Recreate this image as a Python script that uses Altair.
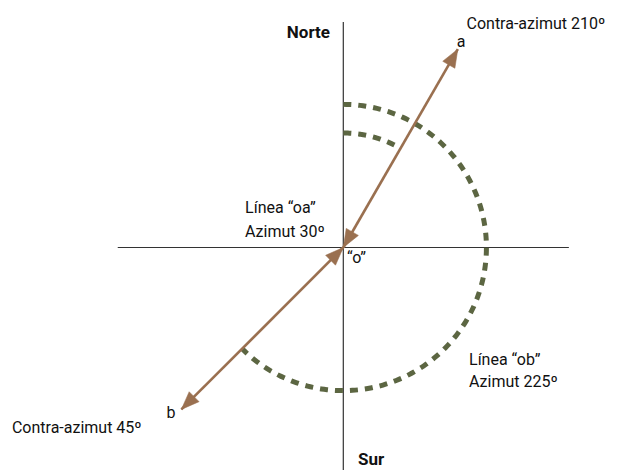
import numpy as np
import pandas as pd
import altair as alt

# ---------------- data ----------------
line_names = ["oa", "ob"]
azimuths = [30, 225]            # degrees, clockwise from north
back_azimuths = [210, 45]
endpoint_labels = ["a", "b"]
arrow_length = [10.0, 10.0]     # units
arc_radius = [5.0, 6.25]        # units (arc drawn from north to the azimuth)

label_texts = ["Norte", "Sur", "a", "b", "Contra-azimut 210º", "Contra-azimut 45º",
               "Línea “oa”", "Azimut 30º", "Línea “ob”", "Azimut 225º", "“o”"]

# ---------------- layout ----------------
W, H = 601, 470
PX = 22.9                      # pixels per unit
CX, CY = 335.3, 239.5          # centre in chart pixels
AXIS_HALF = 9.85
xs = alt.Scale(domain=[-CX / PX, (W - CX) / PX], range=[0, W], nice=False, zero=False)
ys = alt.Scale(domain=[-(H - CY) / PX, CY / PX], range=[H, 0], nice=False, zero=False)

FONT = "Roboto"
BROWN = "#9a7050"
OLIVE = "#5c6642"

def X(f="x"):
    return alt.X(f"{f}:Q", scale=xs, axis=None)

def Y(f="y"):
    return alt.Y(f"{f}:Q", scale=ys, axis=None)

# axes cross
axes_df = pd.DataFrame({
    "x": [-AXIS_HALF, 0.0], "x2": [AXIS_HALF, 0.0],
    "y": [0.0, -AXIS_HALF], "y2": [0.0, AXIS_HALF],
})
axes = alt.Chart(axes_df).mark_rule(color="#333333", strokeWidth=1.2).encode(
    x=X(), x2="x2:Q", y=Y(), y2="y2:Q")

# arcs
rows = []
for name, az, r in zip(line_names, azimuths, arc_radius):
    th = np.radians(np.linspace(0, az, 200))
    for i, t in enumerate(th):
        rows.append({"name": name, "i": i, "x": r * np.sin(t), "y": r * np.cos(t)})
arc_df = pd.DataFrame(rows)
arcs = alt.Chart(arc_df).mark_line(
    color=OLIVE, strokeWidth=5, strokeDash=[8, 7], strokeCap="butt"
).encode(x=X(), y=Y(), detail="name:N", order="i:Q")

# arrows
az = np.radians(azimuths)
arr_df = pd.DataFrame({
    "name": line_names,
    "x": 0.0, "y": 0.0,
    "x2": np.array(arrow_length) * np.sin(az),
    "y2": np.array(arrow_length) * np.cos(az),
})
shafts = alt.Chart(arr_df).mark_rule(color=BROWN, strokeWidth=2.6).encode(
    x=X(), y=Y(), x2="x2:Q", y2="y2:Q")

head_rows = []
for n, a, ba, L in zip(line_names, azimuths, back_azimuths, arrow_length):
    t = np.radians(a)
    head_rows.append({"x": L * np.sin(t), "y": L * np.cos(t), "angle": a})
    head_rows.append({"x": 0.0, "y": 0.0, "angle": ba})
head_df = pd.DataFrame(head_rows)
heads = alt.Chart(head_df).mark_point(
    shape="M0,0L1.4,3.6L-1.4,3.6Z", size=100, filled=True, fill=BROWN,
    stroke=BROWN, strokeWidth=0.5, opacity=1
).encode(x=X(), y=Y(), angle=alt.Angle("angle:Q", scale=None))

# labels
lab_pos = {
    "Norte": (-0.58, 9.15, "right", True),
    "Sur": (0.64, -9.50, "left", True),
    "a": (5.14, 8.76, "center", False),
    "b": (-7.52, -7.45, "center", False),
    "Contra-azimut 210º": (5.38, 9.55, "left", False),
    "Contra-azimut 45º": (-14.47, -8.10, "left", False),
    "Línea “oa”": (-4.29, 1.51, "left", False),
    "Azimut 30º": (-4.29, 0.46, "left", False),
    "Línea “ob”": (5.49, -5.13, "left", False),
    "Azimut 225º": (5.49, -6.09, "left", False),
    "“o”": (0.16, -0.68, "left", False),
}
layers = [axes, arcs, shafts, heads]
for align in ["left", "right", "center"]:
    for bold in [False, True]:
        sub = [dict(text=t, x=lab_pos[t][0], y=lab_pos[t][1]) for t in label_texts
               if lab_pos[t][2] == align and lab_pos[t][3] == bold]
        if not sub:
            continue
        layers.append(alt.Chart(pd.DataFrame(sub)).mark_text(
            align=align, baseline="alphabetic", font=FONT,
            fontSize=17 if bold else 16, fontWeight="bold" if bold else "normal",
            color="#111111"
        ).encode(x=X(), y=Y(), text="text:N"))

chart = alt.layer(*layers).properties(
    width=W, height=H, padding=0, autosize=alt.AutoSizeParams(type="none")
).configure_view(stroke=None)

chart.save("out.html", embed_options={"renderer": "svg", "actions": False})
